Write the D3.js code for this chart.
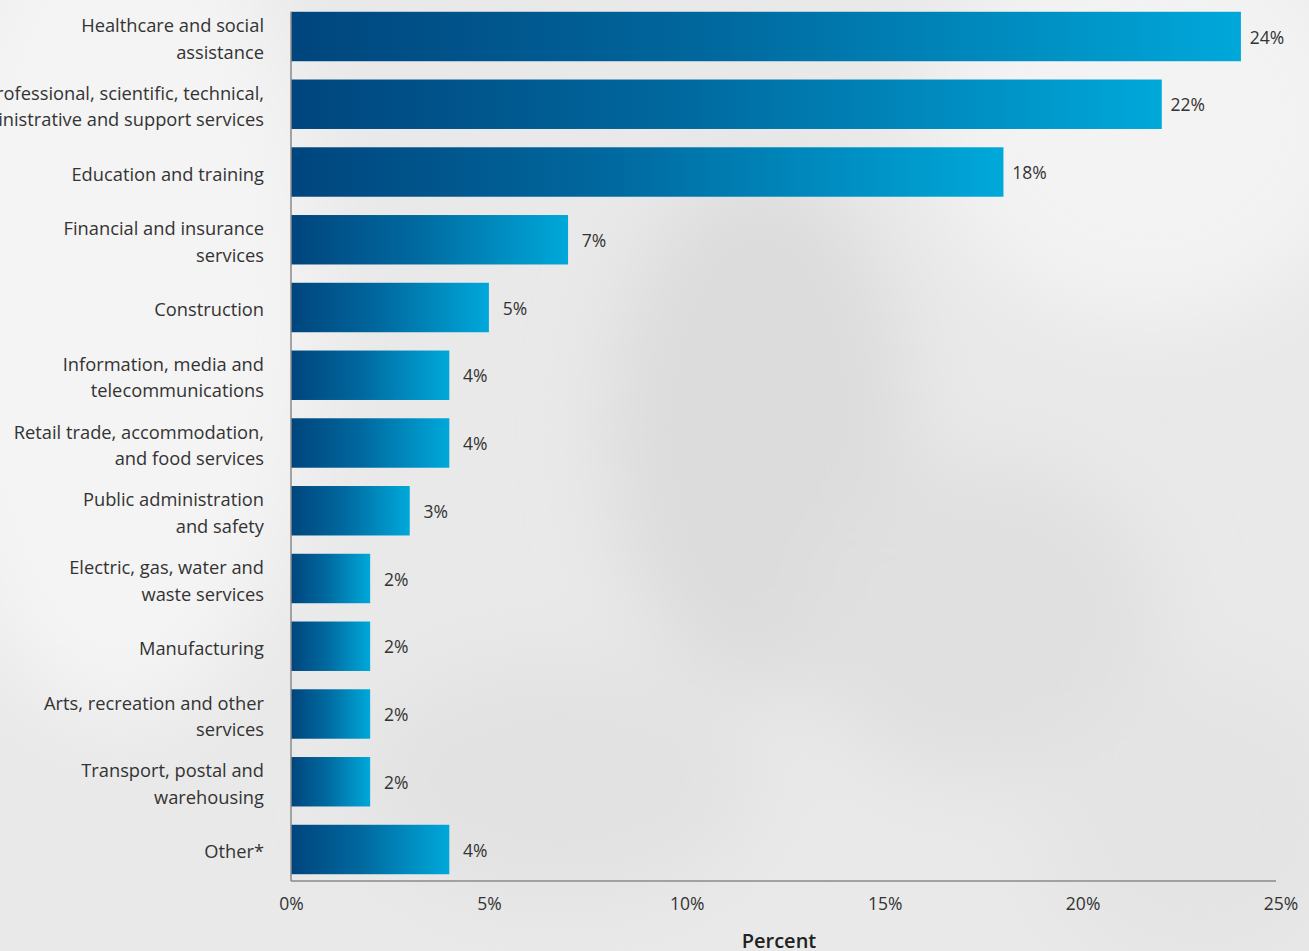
<!DOCTYPE html>
<html>
<head>
<meta charset="utf-8">
<script src="https://cdn.jsdelivr.net/npm/d3@7"></script>
<style>
  html, body { margin: 0; padding: 0; background: #eaeaea; overflow: hidden; }
  svg { display: block; }
</style>
</head>
<body>
<svg id="chart" width="1309" height="951"></svg>
<script>
// Industry labels (each entry split into display lines)
const categories = [
  ["Healthcare and social", "assistance"],
  ["Professional, scientific, technical,", "administrative and support services"],
  ["Education and training"],
  ["Financial and insurance", "services"],
  ["Construction"],
  ["Information, media and", "telecommunications"],
  ["Retail trade, accommodation,", "and food services"],
  ["Public administration", "and safety"],
  ["Electric, gas, water and", "waste services"],
  ["Manufacturing"],
  ["Arts, recreation and other", "services"],
  ["Transport, postal and", "warehousing"],
  ["Other*"]
];
const values = [24, 22, 18, 7, 5, 4, 4, 3, 2, 2, 2, 2, 4];
const tickValues = [0, 5, 10, 15, 20, 25];
const axisTitle = "Percent";

const W = 1309, H = 951;
const svg = d3.select("#chart");
const defs = svg.append("defs");

// Soft grey backdrop
const bgBlur = defs.append("filter").attr("id", "soft").attr("x", "-50%").attr("y", "-50%").attr("width", "200%").attr("height", "200%");
bgBlur.append("feGaussianBlur").attr("stdDeviation", 40);
svg.append("rect").attr("width", W).attr("height", H).attr("fill", "#e9e9e9");
const bg = svg.append("g").attr("filter", "url(#soft)");
bg.append("ellipse").attr("cx", 120).attr("cy", 300).attr("rx", 200).attr("ry", 420).attr("fill", "#f4f4f4");
bg.append("ellipse").attr("cx", 1150).attr("cy", 120).attr("rx", 220).attr("ry", 200).attr("fill", "#f3f3f3");
bg.append("ellipse").attr("cx", 760).attr("cy", 430).attr("rx", 150).attr("ry", 260).attr("fill", "#dcdcdc");
bg.append("ellipse").attr("cx", 980).attr("cy", 620).attr("rx", 180).attr("ry", 160).attr("fill", "#e0e0e0");
bg.append("ellipse").attr("cx", 560).attr("cy", 780).attr("rx", 200).attr("ry", 120).attr("fill", "#e2e2e2");
bg.append("ellipse").attr("cx", 1200).attr("cy", 820).attr("rx", 160).attr("ry", 150).attr("fill", "#e4e4e4");

// Horizontal bar gradient
const grad = defs.append("linearGradient").attr("id", "barGrad")
  .attr("x1", "0%").attr("x2", "100%").attr("y1", "0%").attr("y2", "0%");
grad.append("stop").attr("offset", "0%").attr("stop-color", "#00457d");
grad.append("stop").attr("offset", "45%").attr("stop-color", "#00699f");
grad.append("stop").attr("offset", "100%").attr("stop-color", "#00a8da");

const x = d3.scaleLinear().domain([0, 25]).range([291, 1280.5]);
const y = d3.scaleBand().domain(d3.range(categories.length))
  .range([5, 881]).paddingInner(0.27).paddingOuter(0.1);

const textColor = "#333333";
const font = "'Open Sans', sans-serif";
const labelSize = 18.3;

// Bars
svg.append("g").selectAll("rect").data(values).join("rect")
  .attr("x", x(0))
  .attr("y", (d, i) => y(i))
  .attr("width", d => x(d) - x(0))
  .attr("height", y.bandwidth())
  .attr("fill", "url(#barGrad)");

// Value labels
svg.append("g").selectAll("text").data(values).join("text")
  .attr("x", d => x(d) + 26)
  .attr("y", (d, i) => y(i) + y.bandwidth() / 2 + 1)
  .attr("dy", "0.35em")
  .attr("text-anchor", "middle")
  .attr("font-family", font)
  .attr("font-size", 17.5)
  .attr("fill", textColor)
  .text(d => d + "%");

// Category labels
const lineGap = 26.5;
const catG = svg.append("g");
categories.forEach((lines, i) => {
  const cy = y(i) + y.bandwidth() / 2 + 2.5;
  const t = catG.append("text")
    .attr("text-anchor", "end")
    .attr("font-family", font)
    .attr("font-size", labelSize)
    .attr("fill", textColor);
  lines.forEach((ln, k) => {
    t.append("tspan")
      .attr("x", 264)
      .attr("y", cy + (k - (lines.length - 1) / 2) * lineGap)
      .attr("dy", "0.35em")
      .text(ln);
  });
});

// Axes
const axisColor = "#8a8a8a";
svg.append("line")
  .attr("x1", x(0)).attr("x2", x(0))
  .attr("y1", y(0)).attr("y2", 881)
  .attr("stroke", axisColor).attr("stroke-width", 1.5);

const xAxis = svg.append("g").attr("transform", "translate(0,881)")
  .call(d3.axisBottom(x).tickValues(tickValues).tickSize(0).tickPadding(17).tickFormat(d => d + "%"));
xAxis.select(".domain").attr("stroke", axisColor).attr("stroke-width", 1.5)
  .attr("d", `M${x(0)},0H1276`);
xAxis.selectAll("text")
  .attr("font-family", font)
  .attr("font-size", 17.5)
  .attr("fill", textColor);

svg.append("text")
  .attr("x", 779).attr("y", 948)
  .attr("text-anchor", "middle")
  .attr("font-family", font)
  .attr("font-size", 20)
  .attr("font-weight", 600)
  .attr("fill", "#222")
  .text(axisTitle);
</script>
</body>
</html>
